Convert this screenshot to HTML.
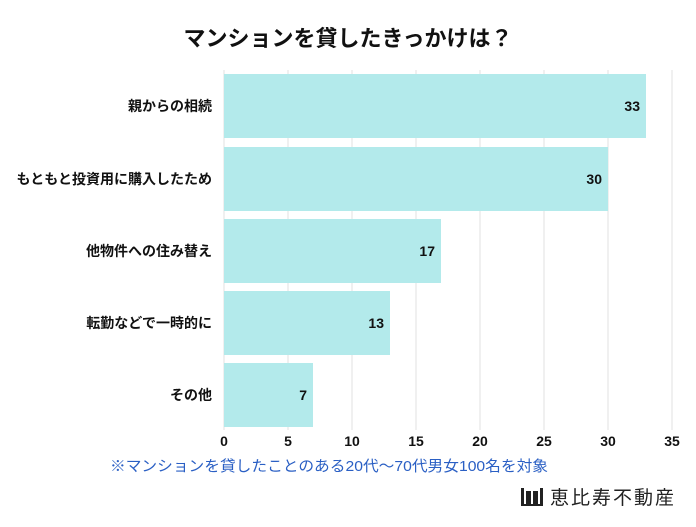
<!DOCTYPE html>
<html><head><meta charset="utf-8"><style>
body{margin:0;background:#fff;width:696px;height:522px;overflow:hidden;font-family:"Liberation Sans","Noto Sans CJK JP",sans-serif}
</style></head><body>
<svg width="696" height="522" xmlns="http://www.w3.org/2000/svg" font-family="Liberation Sans, Noto Sans CJK JP, sans-serif">
<text x="348" y="46" text-anchor="middle" font-size="22" font-weight="bold" fill="#111">マンションを貸したきっかけは？</text>
<g stroke="#e2e2e2" stroke-width="1">
<line x1="224" y1="70" x2="224" y2="430"/><line x1="288" y1="70" x2="288" y2="430"/><line x1="352" y1="70" x2="352" y2="430"/><line x1="416" y1="70" x2="416" y2="430"/><line x1="480" y1="70" x2="480" y2="430"/><line x1="544" y1="70" x2="544" y2="430"/><line x1="608" y1="70" x2="608" y2="430"/><line x1="672" y1="70" x2="672" y2="430"/>
</g>
<g fill="#b3eaeb">
<rect x="224" y="74" width="422" height="64"/>
<rect x="224" y="147" width="384" height="64"/>
<rect x="224" y="219" width="217" height="64"/>
<rect x="224" y="291" width="166" height="64"/>
<rect x="224" y="363" width="89" height="64"/>
</g>
<g font-size="14" font-weight="bold" fill="#111" text-anchor="end">
<text x="640" y="111">33</text><text x="602" y="184">30</text><text x="435" y="256">17</text><text x="384" y="328">13</text><text x="307" y="400">7</text>
</g>
<g font-size="14" font-weight="bold" fill="#111" text-anchor="end">
<text x="212" y="111">親からの相続</text>
<text x="212" y="184">もともと投資用に購入したため</text>
<text x="212" y="256">他物件への住み替え</text>
<text x="212" y="328">転勤などで一時的に</text>
<text x="212" y="400">その他</text>
</g>
<g font-size="14" font-weight="bold" fill="#111" text-anchor="middle">
<text x="224" y="446">0</text><text x="288" y="446">5</text><text x="352" y="446">10</text><text x="416" y="446">15</text><text x="480" y="446">20</text><text x="544" y="446">25</text><text x="608" y="446">30</text><text x="672" y="446">35</text>
</g>
<text x="110" y="471" font-size="15" fill="#2a5fc4" textLength="438" lengthAdjust="spacingAndGlyphs">※マンションを貸したことのある20代〜70代男女100名を対象</text>
<g fill="#222">
<rect x="521" y="488" width="3" height="18"/><rect x="526" y="491" width="5" height="15"/><rect x="533" y="491" width="5" height="15"/><rect x="540" y="488" width="3" height="18"/><rect x="521" y="504" width="22" height="2"/>
</g>
<text x="550" y="504" font-size="19" fill="#222" letter-spacing="2">恵比寿不動産</text>
</svg>
</body></html>
